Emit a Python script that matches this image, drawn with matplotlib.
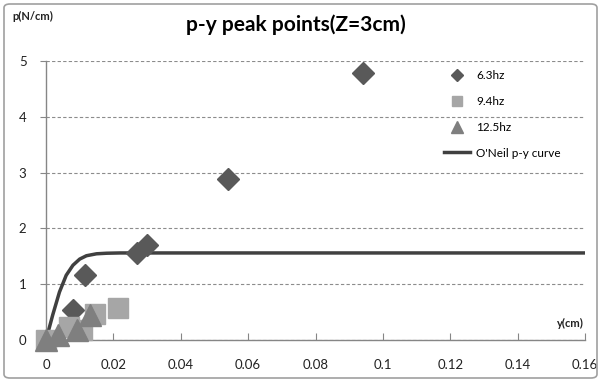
import matplotlib
matplotlib.use("Agg")
import matplotlib.pyplot as plt
from matplotlib.patches import FancyBboxPatch

plt.rcParams['font.family'] = ['Lato', 'DejaVu Sans']

# 6.3hz peak points
y_63 = [0.0081, 0.0116, 0.027, 0.030, 0.054, 0.094]
p_63 = [0.54, 1.16, 1.56, 1.70, 2.88, 4.78]

# 9.4hz peak points
y_94 = [0.0, 0.0068, 0.0107, 0.0145, 0.0214]
p_94 = [0.0, 0.24, 0.18, 0.47, 0.57]

# 12.5hz peak points
y_125 = [0.0, 0.0036, 0.0092, 0.013]
p_125 = [0.0, 0.09, 0.18, 0.45]

# O'Neil p-y curve
y_oneil = [0.0, 0.002, 0.004, 0.006, 0.008, 0.010, 0.012, 0.015, 0.018, 0.022, 0.03, 0.16]
p_oneil = [0.0, 0.45, 0.86, 1.16, 1.34, 1.45, 1.51, 1.545, 1.555, 1.56, 1.56, 1.56]

x_ticks = [0, 0.02, 0.04, 0.06, 0.08, 0.1, 0.12, 0.14, 0.16]
x_labels = ['0', '0.02', '0.04', '0.06', '0.08', '0.1', '0.12', '0.14', '0.16']
y_ticks = [0, 1, 2, 3, 4, 5]

fig = plt.figure(figsize=(6.01, 3.81), dpi=100)
ax = fig.add_axes([46 / 601, 41 / 381, 539 / 601, 279 / 381])

ax.plot(y_oneil, p_oneil, color='#404040', lw=2.5, label="O'Neil p-y curve", zorder=3)
ax.plot(y_63, p_63, linestyle='none', marker='D', ms=11.5, color='#595959',
        label='6.3hz', clip_on=False, zorder=4)
ax.plot(y_94, p_94, linestyle='none', marker='s', ms=14, color='#a6a6a6',
        label='9.4hz', clip_on=False, zorder=4)
ax.plot(y_125, p_125, linestyle='none', marker='^', ms=16, color='#7f7f7f',
        label='12.5hz', clip_on=False, zorder=5)

ax.set_xlim(0, 0.16)
ax.set_ylim(0, 5)
ax.set_xticks(x_ticks)
ax.set_xticklabels(x_labels)
ax.set_yticks(y_ticks)

ax.grid(axis='y', linestyle=(0, (3, 2)), color='#8c8c8c', lw=0.8)
ax.set_axisbelow(True)
for s in ['top', 'right']:
    ax.spines[s].set_visible(False)
for s in ['left', 'bottom']:
    ax.spines[s].set_color('#868686')
    ax.spines[s].set_linewidth(1.0)

ax.tick_params(axis='x', direction='in', length=5, color='#868686', pad=14,
               labelsize=9.5, labelcolor='#222222')
ax.tick_params(axis='y', direction='out', length=4, color='#868686', pad=10,
               labelsize=9.5, labelcolor='#222222')

handles, labels = ax.get_legend_handles_labels()
order = [1, 2, 3, 0]
leg = ax.legend([handles[i] for i in order], [labels[i] for i in order],
                loc='upper right', bbox_to_anchor=(0.975, 1.005), frameon=False,
                fontsize=8.5, labelspacing=1.25, handlelength=2.2,
                markerscale=0.5, handletextpad=0.5)

fig.text(296 / 601, 1 - 25 / 381, 'p-y peak points(Z=3cm)', ha='center', va='center',
         fontsize=15, fontweight='bold')
fig.text(12 / 601, 1 - 16 / 381, 'p(N/cm)', ha='left', va='center',
         fontsize=8, fontweight='bold', color='#222222')
fig.text(570 / 601, 1 - 323 / 381, 'y(cm)', ha='center', va='center',
         fontsize=8, fontweight='bold', color='#222222')

border = FancyBboxPatch((4 / 601, 3 / 381), 593 / 601, 374 / 381,
                        boxstyle='round,pad=0,rounding_size=0.01',
                        transform=fig.transFigure, fill=False,
                        edgecolor='#a0a0a0', lw=1.2)
fig.patches.append(border)

fig.savefig('out.png', dpi=100)
